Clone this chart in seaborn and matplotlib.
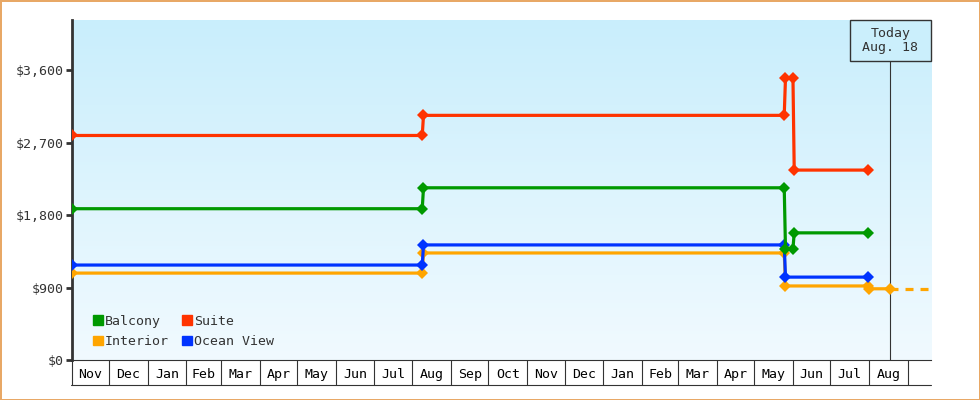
import numpy as np
import pandas as pd
import matplotlib
matplotlib.use('Agg')
import matplotlib.pyplot as plt
import matplotlib.patches as mpatches
import seaborn as sns

# ---- data ----
cabins = ['Interior', 'Ocean View', 'Balcony', 'Suite']
colors = {'Balcony': '#009900', 'Suite': '#ff3300',
          'Interior': '#ffa500', 'Ocean View': '#0033ff'}

interior_dates = ['2022-11-01', '2023-08-09', '2023-08-10', '2024-05-25',
                  '2024-05-26', '2024-07-31', '2024-08-01', '2024-08-18']
interior_prices = [1080, 1080, 1330, 1330, 920, 920, 885, 885]

ocean_dates = ['2022-11-01', '2023-08-09', '2023-08-10', '2024-05-25',
               '2024-05-26', '2024-07-31']
ocean_prices = [1180, 1180, 1430, 1430, 1030, 1030]

balcony_dates = ['2022-11-01', '2023-08-09', '2023-08-10', '2024-05-25',
                 '2024-05-26', '2024-06-01', '2024-06-02', '2024-07-31']
balcony_prices = [1880, 1880, 2140, 2140, 1385, 1385, 1580, 1580]

suite_dates = ['2022-11-01', '2023-08-09', '2023-08-10', '2024-05-25',
               '2024-05-26', '2024-06-01', '2024-06-02', '2024-07-31']
suite_prices = [2790, 2790, 3040, 3040, 3500, 3500, 2360, 2360]

# projected interior price after today
proj_dates = ['2024-08-18', '2024-09-19']
proj_prices = [885, 885]

today = pd.Timestamp('2024-08-18')
today_label = 'Today\nAug. 18'

month_labels = ['Nov', 'Dec', 'Jan', 'Feb', 'Mar', 'Apr', 'May', 'Jun', 'Jul', 'Aug', 'Sep',
                'Oct', 'Nov', 'Dec', 'Jan', 'Feb', 'Mar', 'Apr', 'May', 'Jun', 'Jul', 'Aug']
y_ticks = [0, 900, 1800, 2700, 3600]

x_start = pd.Timestamp('2022-11-01')
x_end = pd.Timestamp('2024-09-19 14:00')
y_max = 4225

# build long table
frames = []
for name, d, p in [('Interior', interior_dates, interior_prices),
                   ('Ocean View', ocean_dates, ocean_prices),
                   ('Balcony', balcony_dates, balcony_prices),
                   ('Suite', suite_dates, suite_prices)]:
    frames.append(pd.DataFrame({'date': pd.to_datetime(d), 'price': p, 'cabin': name}))
df = pd.concat(frames, ignore_index=True)

sns.set_style('white')
plt.rcParams['font.family'] = ['DejaVu Sans Mono']
dark = '#333333'

fig = plt.figure(figsize=(9.8, 4.0), dpi=100)
fig.patch.set_facecolor('white')
fig.patch.set_edgecolor('#e8a866')
fig.patch.set_linewidth(2)
ax = fig.add_axes([71.5 / 980, 40 / 400, 859.5 / 980, 340 / 400])

# gradient background
grad = np.linspace(0, 1, 256).reshape(-1, 1)
top_c = np.array([0xc9, 0xee, 0xfc]) / 255
bot_c = np.array([0xf1, 0xfa, 0xff]) / 255
img = top_c * (1 - grad[..., None]) + bot_c * grad[..., None]
ax.imshow(img, extent=[0, 1, 0, 1], transform=ax.transAxes, aspect='auto', zorder=0)

sns.lineplot(data=df, x='date', y='price', hue='cabin', hue_order=cabins,
             palette=colors, sort=False, estimator=None, legend=False,
             linewidth=2.3, marker='D', markersize=6.5, markeredgewidth=0,
             ax=ax, zorder=3)
ax.plot(pd.to_datetime(proj_dates), proj_prices, color=colors['Interior'],
        linewidth=2.3, linestyle=(0, (2.5, 2.2)), zorder=3)

ax.set_xlim(x_start, x_end)
ax.set_ylim(0, y_max)

# today marker
tx = (matplotlib.dates.date2num(today) - matplotlib.dates.date2num(x_start)) / \
     (matplotlib.dates.date2num(x_end) - matplotlib.dates.date2num(x_start))
box_w, box_h = 80.5 / 859.5, 40.5 / 340
ax.plot([tx, tx], [0, 1 - box_h], transform=ax.transAxes, color=dark,
        linewidth=0.8, zorder=2)
ax.add_patch(mpatches.Rectangle((tx - box_w / 2, 1 - box_h), box_w, box_h,
                                transform=ax.transAxes, facecolor='#cbeffc',
                                edgecolor=dark, linewidth=1, zorder=5, clip_on=False))
ax.text(tx, 1 - box_h / 2, today_label, transform=ax.transAxes, ha='center',
        va='center', fontsize=9.5, color=dark, zorder=6, linespacing=1.1)

# y axis
ax.set_yticks(y_ticks)
ax.set_yticklabels([f'${v:,}' for v in y_ticks])
ax.tick_params(axis='y', length=4, width=2, color=dark, labelcolor=dark,
               labelsize=9.5, pad=1.5, left=True)

# month boxes along x axis
month_starts = pd.date_range(x_start, periods=len(month_labels) + 1, freq='MS')
mids = [month_starts[i] + (month_starts[i + 1] - month_starts[i]) / 2
        for i in range(len(month_labels))]
ax.set_xticks(mids)
ax.set_xticklabels(month_labels)
ax.set_xticks(month_starts, minor=True)
ax.tick_params(axis='x', which='major', length=0, pad=5.5, labelsize=9.5,
               labelcolor='black', bottom=True)
ax.tick_params(axis='x', which='minor', length=18, width=0.8, color=dark,
               direction='out', bottom=True)
ax.plot([-0.001, 1], [-25 / 340, -25 / 340], transform=ax.transAxes, color=dark,
        linewidth=0.8, clip_on=False)
ax.set_xlabel('')
ax.set_ylabel('')

for s in ['top', 'right']:
    ax.spines[s].set_visible(False)
ax.spines['left'].set_color(dark)
ax.spines['left'].set_linewidth(2)
ax.spines['bottom'].set_color(dark)
ax.spines['bottom'].set_linewidth(0.8)

# legend
order = ['Balcony', 'Interior', 'Suite', 'Ocean View']
handles = [mpatches.Patch(color=colors[c], label=c) for c in order]
ax.legend(handles=handles, ncol=2, loc='lower left', bbox_to_anchor=(0.011, 0.0),
          frameon=False, fontsize=9.5, handlelength=0.75, handleheight=0.75,
          handletextpad=0.15, columnspacing=1.0, labelspacing=0.55,
          labelcolor=dark)

fig.savefig('out.png', dpi=100, facecolor=fig.get_facecolor(),
            edgecolor=fig.get_edgecolor())
